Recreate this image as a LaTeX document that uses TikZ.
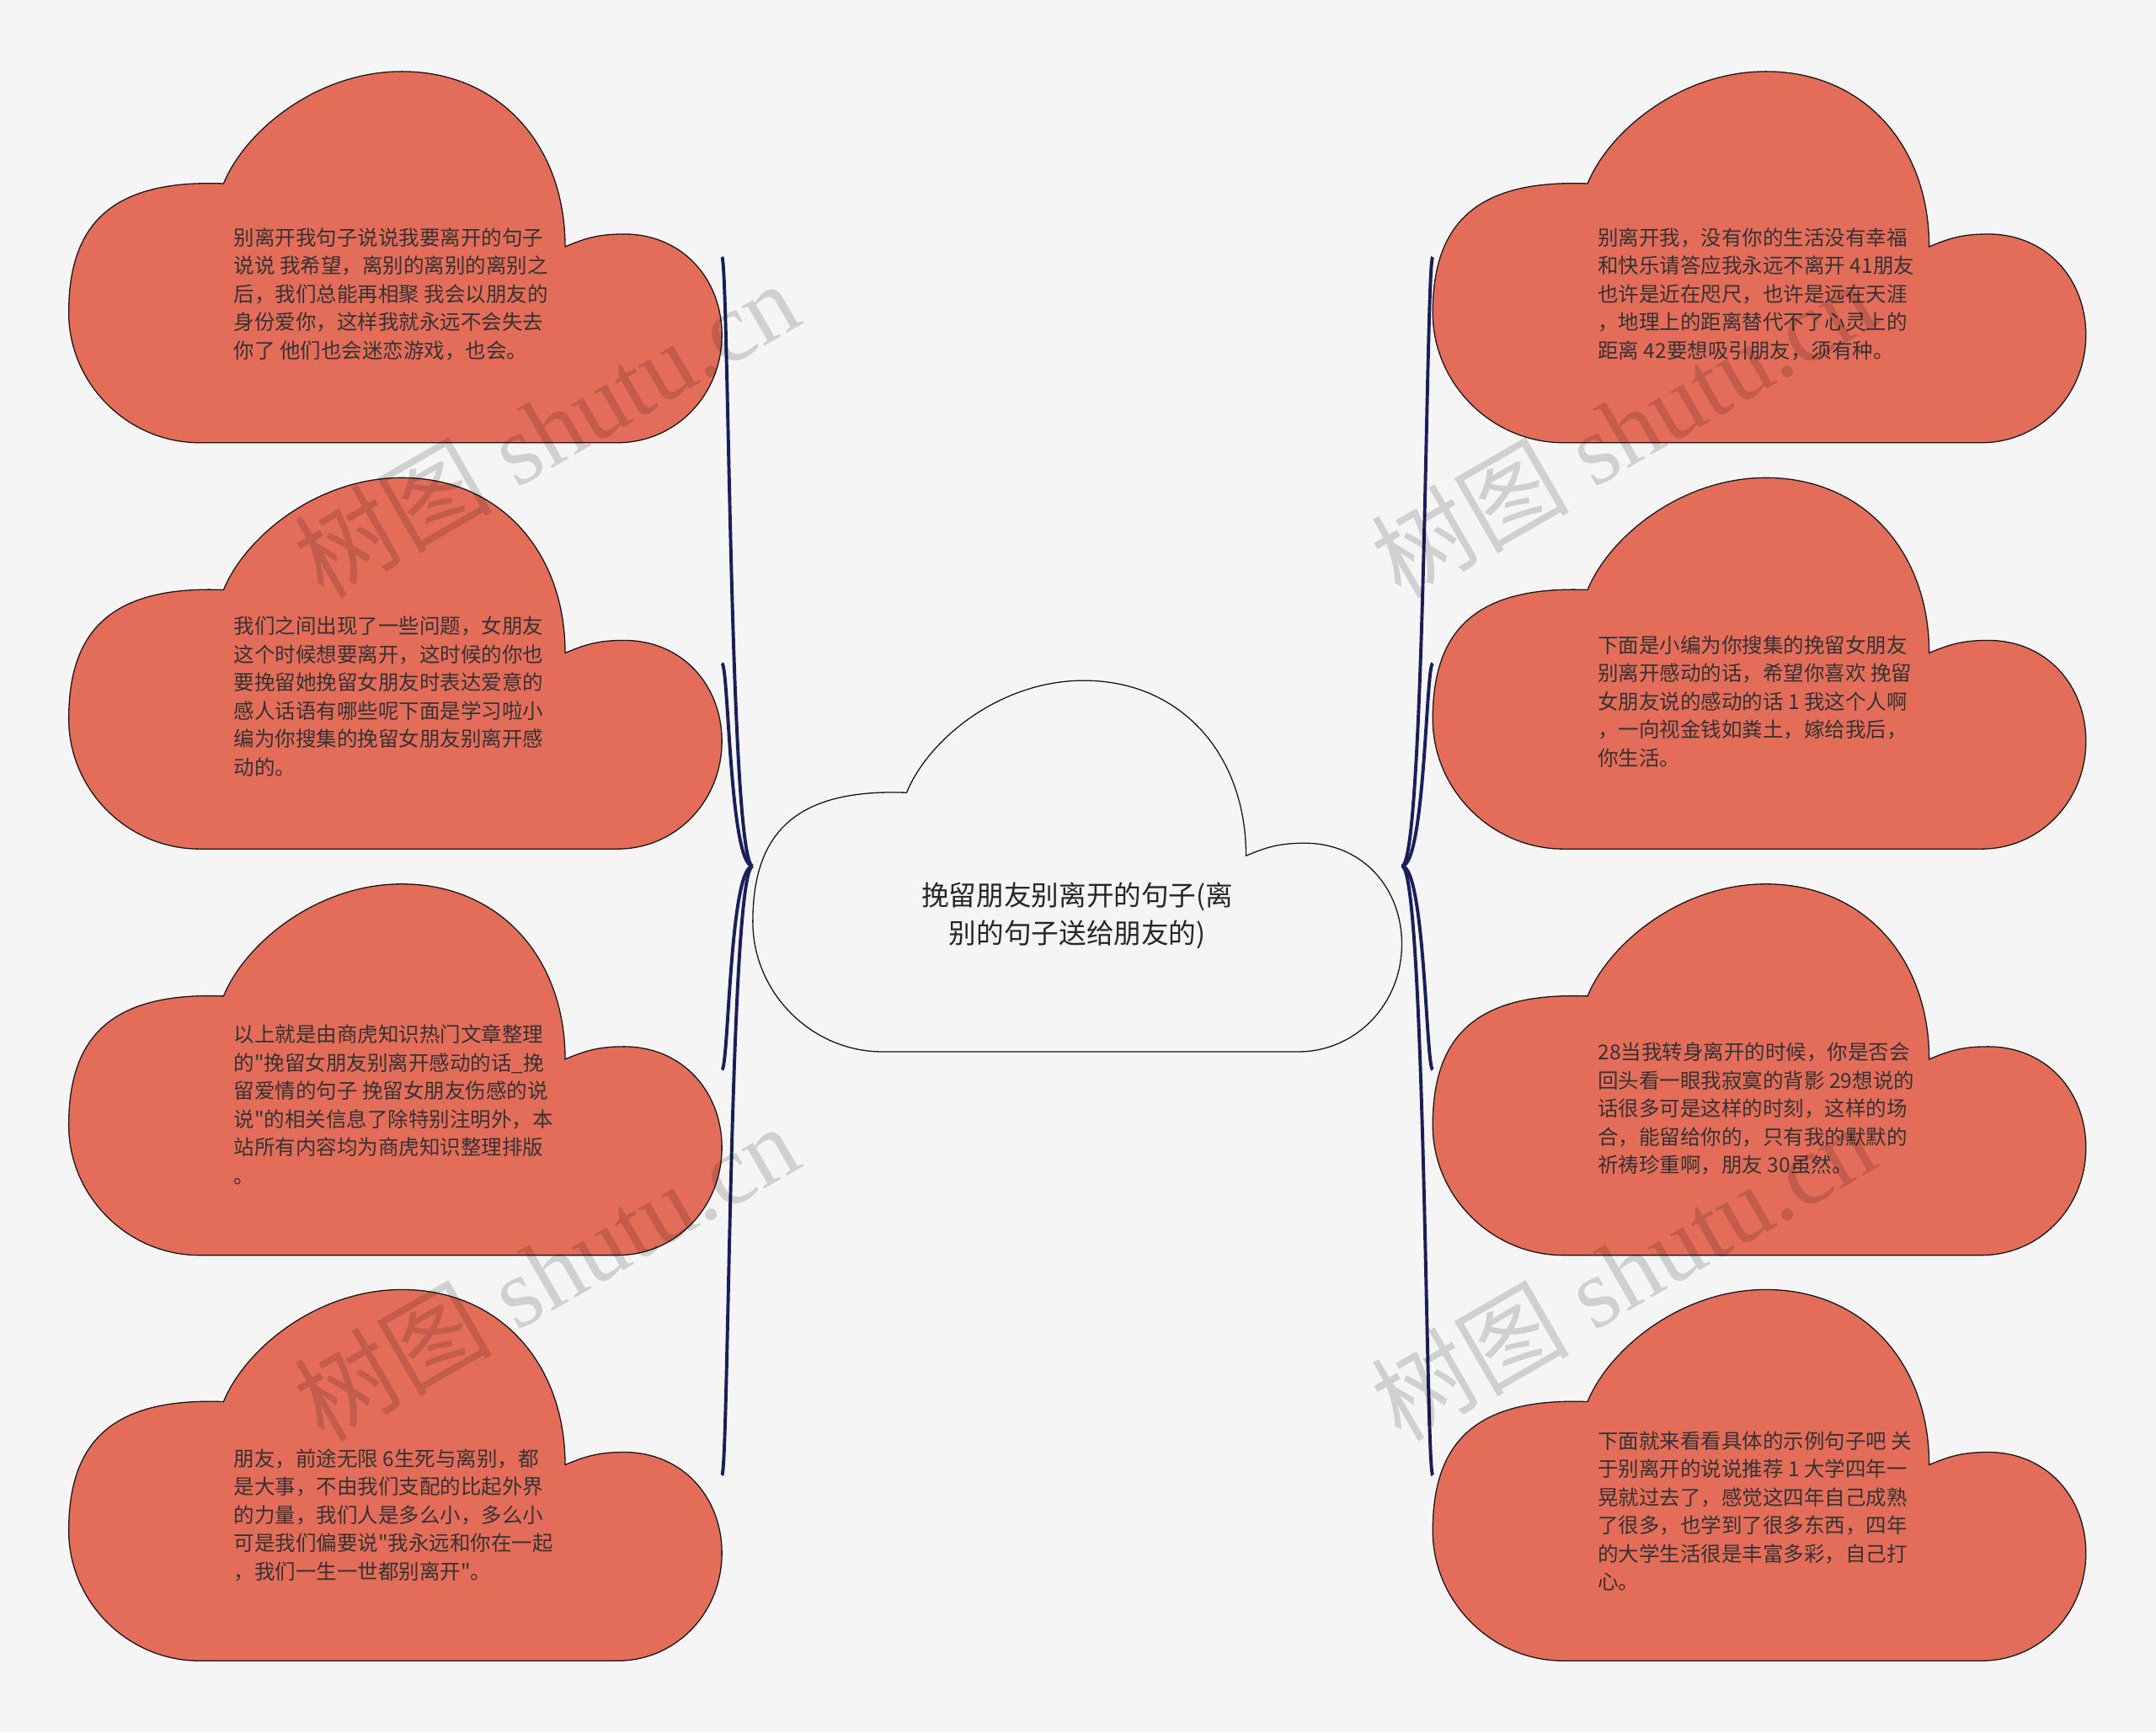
\documentclass[tikz,border=0pt]{standalone}
\usepackage{fontspec}
\usepackage{tikz}
\newfontfamily\cjk{Noto Sans CJK SC}
\newfontfamily\markfont{Liberation Serif}
\definecolor{paper}{HTML}{F5F5F5}
\definecolor{leafred}{HTML}{E46D59}
\definecolor{linkblue}{HTML}{1A1E5C}
\definecolor{inkgray}{HTML}{333333}

\begin{document}
\begin{tikzpicture}[x=1pt, y=-1pt,
  cloudbox/.style={minimum width=475pt, minimum height=270pt, inner sep=0pt, outer sep=0pt},
  cloudline/.style={insert path={(0.2,0) -- (0.84,0)
    .. controls (0.93,0) and (1,0.13) .. (1,0.29)
    .. controls (1,0.44) and (0.94,0.562) .. (0.85,0.562)
    .. controls (0.81,0.562) and (0.79,0.55) .. (0.76,0.528)
    .. controls (0.76,0.80) and (0.66,1) .. (0.51,1)
    .. controls (0.38,1) and (0.27,0.84) .. (0.237,0.698)
    .. controls (0.06,0.71) and (0,0.58) .. (0,0.35)
    .. controls (0,0.16) and (0.09,0) .. (0.2,0) -- cycle}},
  leaf/.style={fill=leafred, draw=black!90, line width=0.8pt},
  rootcloud/.style={fill=paper, draw=black!90, line width=0.8pt},
  link/.style={draw=linkblue, line width=2.4pt},
  leaftext/.style={font={\cjk\fontsize{15pt}{20.5pt}\selectfont}, text=inkgray, align=left, inner sep=0pt, anchor=west},
  roottext/.style={font={\cjk\fontsize{20pt}{28pt}\selectfont}, text=black!85, align=center, inner sep=0pt},
  wmark/.style={rotate=30, text=black, text opacity=0.15, font={\markfont\fontsize{72pt}{72pt}\selectfont}, inner sep=0pt}]

  % page
  \fill[paper] (0,0) rectangle (1568,1260);

  % cloud boxes
  \node[cloudbox, minimum width=472pt] (root) at (783.5,630) {};
  \node[cloudbox] (l1) at (287.5,187) {};
  \node[cloudbox] (l2) at (287.5,482.5) {};
  \node[cloudbox] (l3) at (287.5,778) {};
  \node[cloudbox] (l4) at (287.5,1073) {};
  \node[cloudbox] (r1) at (1279.5,187) {};
  \node[cloudbox] (r2) at (1279.5,482.5) {};
  \node[cloudbox] (r3) at (1279.5,778) {};
  \node[cloudbox] (r4) at (1279.5,1073) {};

  % links
  \draw[link] (root.west) .. controls +(-17,0) and +(5,0) .. (l1.east);
  \draw[link] (root.west) .. controls +(-17,0) and +(5,0) .. (l2.east);
  \draw[link] (root.west) .. controls +(-17,0) and +(5,0) .. (l3.east);
  \draw[link] (root.west) .. controls +(-17,0) and +(5,0) .. (l4.east);
  \draw[link] (root.east) .. controls +(17,0) and +(-5,0) .. (r1.west);
  \draw[link] (root.east) .. controls +(17,0) and +(-5,0) .. (r2.west);
  \draw[link] (root.east) .. controls +(17,0) and +(-5,0) .. (r3.west);
  \draw[link] (root.east) .. controls +(17,0) and +(-5,0) .. (r4.west);

  % clouds
  \filldraw[rootcloud, shift={(root.south west)}, x=472pt, y=270pt, cloudline];
  \filldraw[leaf, shift={(l1.south west)}, x=475pt, y=270pt, cloudline];
  \filldraw[leaf, shift={(l2.south west)}, x=475pt, y=270pt, cloudline];
  \filldraw[leaf, shift={(l3.south west)}, x=475pt, y=270pt, cloudline];
  \filldraw[leaf, shift={(l4.south west)}, x=475pt, y=270pt, cloudline];
  \filldraw[leaf, shift={(r1.south west)}, x=475pt, y=270pt, cloudline];
  \filldraw[leaf, shift={(r2.south west)}, x=475pt, y=270pt, cloudline];
  \filldraw[leaf, shift={(r3.south west)}, x=475pt, y=270pt, cloudline];
  \filldraw[leaf, shift={(r4.south west)}, x=475pt, y=270pt, cloudline];

  % texts
  \node[roottext] (roottitle) at (783.5,666) {挽留朋友别离开的句子(离\\别的句子送给朋友的)};
  \node[leaftext] (l1text) at (170,214) {别离开我句子说说我要离开的句子\\说说 我希望，离别的离别的离别之\\后，我们总能再相聚 我会以朋友的\\身份爱你，这样我就永远不会失去\\你了 他们也会迷恋游戏，也会。};
  \node[leaftext] (l2text) at (170,506.5) {我们之间出现了一些问题，女朋友\\这个时候想要离开，这时候的你也\\要挽留她挽留女朋友时表达爱意的\\感人话语有哪些呢下面是学习啦小\\编为你搜集的挽留女朋友别离开感\\动的。};
  \node[leaftext] (l3text) at (170,803.5) {以上就是由商虎知识热门文章整理\\的"挽留女朋友别离开感动的话\_挽\\留爱情的句子 挽留女朋友伤感的说\\说"的相关信息了除特别注明外，本\\站所有内容均为商虎知识整理排版\\。};
  \node[leaftext] (l4text) at (170,1102) {朋友，前途无限 6生死与离别，都\\是大事，不由我们支配的比起外界\\的力量，我们人是多么小，多么小\\可是我们偏要说"我永远和你在一起\\，我们一生一世都别离开"。};
  \node[leaftext] (r1text) at (1162,214) {别离开我，没有你的生活没有幸福\\和快乐请答应我永远不离开 41朋友\\也许是近在咫尺，也许是远在天涯\\，地理上的距离替代不了心灵上的\\距离 42要想吸引朋友，须有种。};
  \node[leaftext] (r2text) at (1162,510) {下面是小编为你搜集的挽留女朋友\\别离开感动的话，希望你喜欢 挽留\\女朋友说的感动的话 1 我这个人啊\\，一向视金钱如粪土，嫁给我后，\\你生活。};
  \node[leaftext] (r3text) at (1162,806.5) {28当我转身离开的时候，你是否会\\回头看一眼我寂寞的背影 29想说的\\话很多可是这样的时刻，这样的场\\合，能留给你的，只有我的默默的\\祈祷珍重啊，朋友 30虽然。};
  \node[leaftext] (r4text) at (1162,1099) {下面就来看看具体的示例句子吧 关\\于别离开的说说推荐 1 大学四年一\\晃就过去了，感觉这四年自己成熟\\了很多，也学到了很多东西，四年\\的大学生活很是丰富多彩，自己打\\心。};

  % watermarks
  \node[wmark] (wm1) at (397,312) {{\cjk 树图} shutu.cn};
  \node[wmark] (wm2) at (1180,312) {{\cjk 树图} shutu.cn};
  \node[wmark] (wm3) at (397,925) {{\cjk 树图} shutu.cn};
  \node[wmark] (wm4) at (1180,925) {{\cjk 树图} shutu.cn};
\end{tikzpicture}
\end{document}
